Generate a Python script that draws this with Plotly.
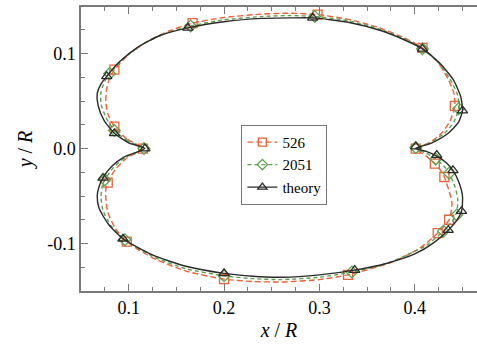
import plotly.graph_objects as go

# ---------------- data ----------------
# theory curve (closed loop, starting at left cusp, going up and clockwise)
theory_x = [0.117, 0.100, 0.085, 0.074, 0.068, 0.067, 0.071, 0.077, 0.090, 0.110, 0.133,
            0.162, 0.200, 0.240, 0.270, 0.293, 0.330, 0.365, 0.390, 0.408, 0.425, 0.440,
            0.448, 0.450, 0.446, 0.435, 0.418, 0.401, 0.412, 0.423, 0.433, 0.440, 0.446,
            0.450, 0.449, 0.443, 0.435, 0.420, 0.400, 0.370, 0.337, 0.300, 0.260, 0.230,
            0.200, 0.160, 0.125, 0.094, 0.079, 0.069, 0.067, 0.069, 0.073, 0.082, 0.095, 0.117]
theory_y = [0.000, 0.006, 0.016, 0.030, 0.045, 0.058, 0.068, 0.076, 0.091, 0.107, 0.119,
            0.127, 0.1335, 0.137, 0.1375, 0.1375, 0.133, 0.124, 0.114, 0.105, 0.091, 0.073,
            0.055, 0.040, 0.028, 0.016, 0.006, 0.000, -0.003, -0.008, -0.015, -0.023, -0.035,
            -0.050, -0.066, -0.077, -0.086, -0.099, -0.111, -0.121, -0.128, -0.133, -0.1355, -0.1345,
            -0.1315, -0.124, -0.112, -0.095, -0.080, -0.063, -0.050, -0.040, -0.031, -0.019, -0.009, 0.000]
theory_mx = [0.117, 0.085, 0.077, 0.162, 0.293, 0.408, 0.450, 0.401, 0.423, 0.440, 0.449,
             0.435, 0.337, 0.200, 0.094, 0.073]
theory_my = [0.000, 0.016, 0.076, 0.127, 0.1375, 0.105, 0.040, 0.002, -0.007, -0.023, -0.066,
             -0.086, -0.128, -0.1315, -0.095, -0.031]

# N = 526
n526_x = [0.115, 0.098, 0.085, 0.078, 0.076, 0.077, 0.080, 0.085, 0.100, 0.120, 0.143,
          0.167, 0.200, 0.240, 0.270, 0.298, 0.330, 0.360, 0.388, 0.408, 0.424, 0.435,
          0.441, 0.442, 0.437, 0.428, 0.415, 0.401, 0.412, 0.421, 0.427, 0.431, 0.436,
          0.439, 0.436, 0.424, 0.405, 0.375, 0.330, 0.300, 0.260, 0.230, 0.200, 0.160,
          0.125, 0.098, 0.086, 0.078, 0.076, 0.076, 0.078, 0.086, 0.098, 0.115]
n526_y = [0.000, 0.010, 0.023, 0.037, 0.050, 0.063, 0.074, 0.083, 0.099, 0.113, 0.124,
          0.132, 0.138, 0.1415, 0.1425, 0.141, 0.136, 0.128, 0.117, 0.106, 0.091, 0.073,
          0.058, 0.045, 0.029, 0.016, 0.006, 0.000, -0.008, -0.016, -0.023, -0.030, -0.045,
          -0.058, -0.075, -0.089, -0.105, -0.120, -0.133, -0.138, -0.1405, -0.1400, -0.1375, -0.129,
          -0.115, -0.098, -0.084, -0.067, -0.052, -0.043, -0.036, -0.022, -0.010, 0.000]
n526_mx = [0.115, 0.085, 0.085, 0.167, 0.298, 0.408, 0.442, 0.401, 0.421, 0.431, 0.436,
           0.424, 0.330, 0.200, 0.098, 0.078]
n526_my = [0.000, 0.023, 0.083, 0.132, 0.141, 0.106, 0.045, 0.000, -0.016, -0.030, -0.075,
           -0.089, -0.133, -0.1375, -0.098, -0.036]

# N = 2051
n2051_x = [0.116, 0.099, 0.085, 0.076, 0.071, 0.071, 0.075, 0.080, 0.095, 0.115, 0.138,
           0.165, 0.200, 0.240, 0.270, 0.295, 0.330, 0.362, 0.389, 0.408, 0.424, 0.437,
           0.445, 0.446, 0.441, 0.431, 0.416, 0.401, 0.412, 0.422, 0.430, 0.436, 0.442,
           0.445, 0.444, 0.439, 0.430, 0.412, 0.372, 0.334, 0.300, 0.260, 0.230, 0.200,
           0.160, 0.125, 0.096, 0.082, 0.073, 0.071, 0.072, 0.075, 0.084, 0.097, 0.116]
n2051_y = [0.000, 0.008, 0.019, 0.033, 0.047, 0.060, 0.071, 0.079, 0.095, 0.110, 0.121,
           0.129, 0.1355, 0.139, 0.140, 0.139, 0.1345, 0.126, 0.1155, 0.105, 0.091, 0.073,
           0.056, 0.042, 0.028, 0.016, 0.006, 0.000, -0.005, -0.011, -0.018, -0.026, -0.040,
           -0.053, -0.067, -0.077, -0.087, -0.102, -0.1205, -0.130, -0.1355, -0.138, -0.137, -0.134,
           -0.1265, -0.1135, -0.096, -0.082, -0.065, -0.051, -0.041, -0.033, -0.020, -0.009, 0.000]
n2051_mx = [0.116, 0.085, 0.080, 0.165, 0.295, 0.408, 0.446, 0.401, 0.422, 0.436, 0.444,
            0.430, 0.334, 0.200, 0.096, 0.075]
n2051_my = [0.000, 0.019, 0.079, 0.129, 0.139, 0.105, 0.042, 0.001, -0.011, -0.026, -0.070,
            -0.087, -0.130, -0.134, -0.096, -0.033]

series_names = ["526", "2051", "theory"]
x_tickvals = [0.1, 0.2, 0.3, 0.4]
x_ticktext = ["0.1", "0.2", "0.3", "0.4"]
y_tickvals = [-0.1, 0.0, 0.1]
y_ticktext = ["-0.1", "0.0", "0.1"]

# ---------------- styles ----------------
ORANGE = "#E8623A"
GREEN = "#5DA04E"
DARK = "#2b2b2b"
AXIS = "#7a7a7a"
FONT = "Liberation Serif, Times New Roman, serif"

styles = [
    dict(color=ORANGE, dash="6px,3px", symbol="square-open", size=9),
    dict(color=GREEN, dash="4px,3px", symbol="diamond-open", size=9),
    dict(color=DARK, dash="solid", symbol="triangle-up-open", size=9),
]
curves = [
    (n526_x, n526_y, n526_mx, n526_my),
    (n2051_x, n2051_y, n2051_mx, n2051_my),
    (theory_x, theory_y, theory_mx, theory_my),
]

fig = go.Figure()
for name, st, (cx, cy, mx, my) in zip(series_names, styles, curves):
    fig.add_trace(go.Scatter(
        x=cx, y=cy, mode="lines", showlegend=False, hoverinfo="skip",
        line=dict(color=st["color"], dash=st["dash"], width=1.4, shape="spline", smoothing=0.6),
    ))
    fig.add_trace(go.Scatter(
        x=mx, y=my, mode="markers", showlegend=False,
        marker=dict(symbol=st["symbol"], size=st["size"], color=st["color"],
                    line=dict(width=1.3, color=st["color"])),
    ))
# legend entries
for name, st in zip(series_names, styles):
    fig.add_trace(go.Scatter(
        x=[None], y=[None], mode="lines+markers", name=name,
        line=dict(color=st["color"], dash=st["dash"], width=1.4),
        marker=dict(symbol=st["symbol"], size=8, color=st["color"],
                    line=dict(width=1.3, color=st["color"])),
    ))

fig.update_layout(
    width=477, height=351,
    margin=dict(l=81, r=0, t=7, b=60),
    paper_bgcolor="white", plot_bgcolor="white",
    font=dict(family=FONT, size=18, color="black"),
    legend=dict(
        x=0.405, y=0.585, xanchor="left", yanchor="top",
        bgcolor="white", bordercolor="#777", borderwidth=1,
        font=dict(family=FONT, size=15, color="black"),
        itemwidth=30, tracegroupgap=0,
    ),
)
fig.update_xaxes(
    range=[0.05, 0.4652], showgrid=False, zeroline=False,
    showline=True, linecolor=AXIS, linewidth=1.5, mirror="ticks",
    ticks="inside", ticklen=7, tickwidth=1.2, tickcolor=AXIS,
    tickvals=x_tickvals, ticktext=x_ticktext,
    tickfont=dict(family=FONT, size=18, color="black"),
    minor=dict(ticks="inside", ticklen=4, tickwidth=1, tickcolor=AXIS, dtick=0.025, tick0=0.0),
    title=dict(text="<i>x</i> / <i>R</i>", font=dict(family=FONT, size=20), standoff=6),
)
fig.update_yaxes(
    range=[-0.150, 0.149], showgrid=False, zeroline=False,
    showline=True, linecolor=AXIS, linewidth=1.5,
    ticks="inside", ticklen=7, tickwidth=1.2, tickcolor=AXIS,
    tickvals=y_tickvals, ticktext=y_ticktext,
    tickfont=dict(family=FONT, size=18, color="black"),
    minor=dict(ticks="inside", ticklen=4, tickwidth=1, tickcolor=AXIS, dtick=0.025, tick0=0.0),
    title=dict(text="<i>y</i> / <i>R</i>", font=dict(family=FONT, size=20), standoff=9),
)

fig.write_html("out.html")
